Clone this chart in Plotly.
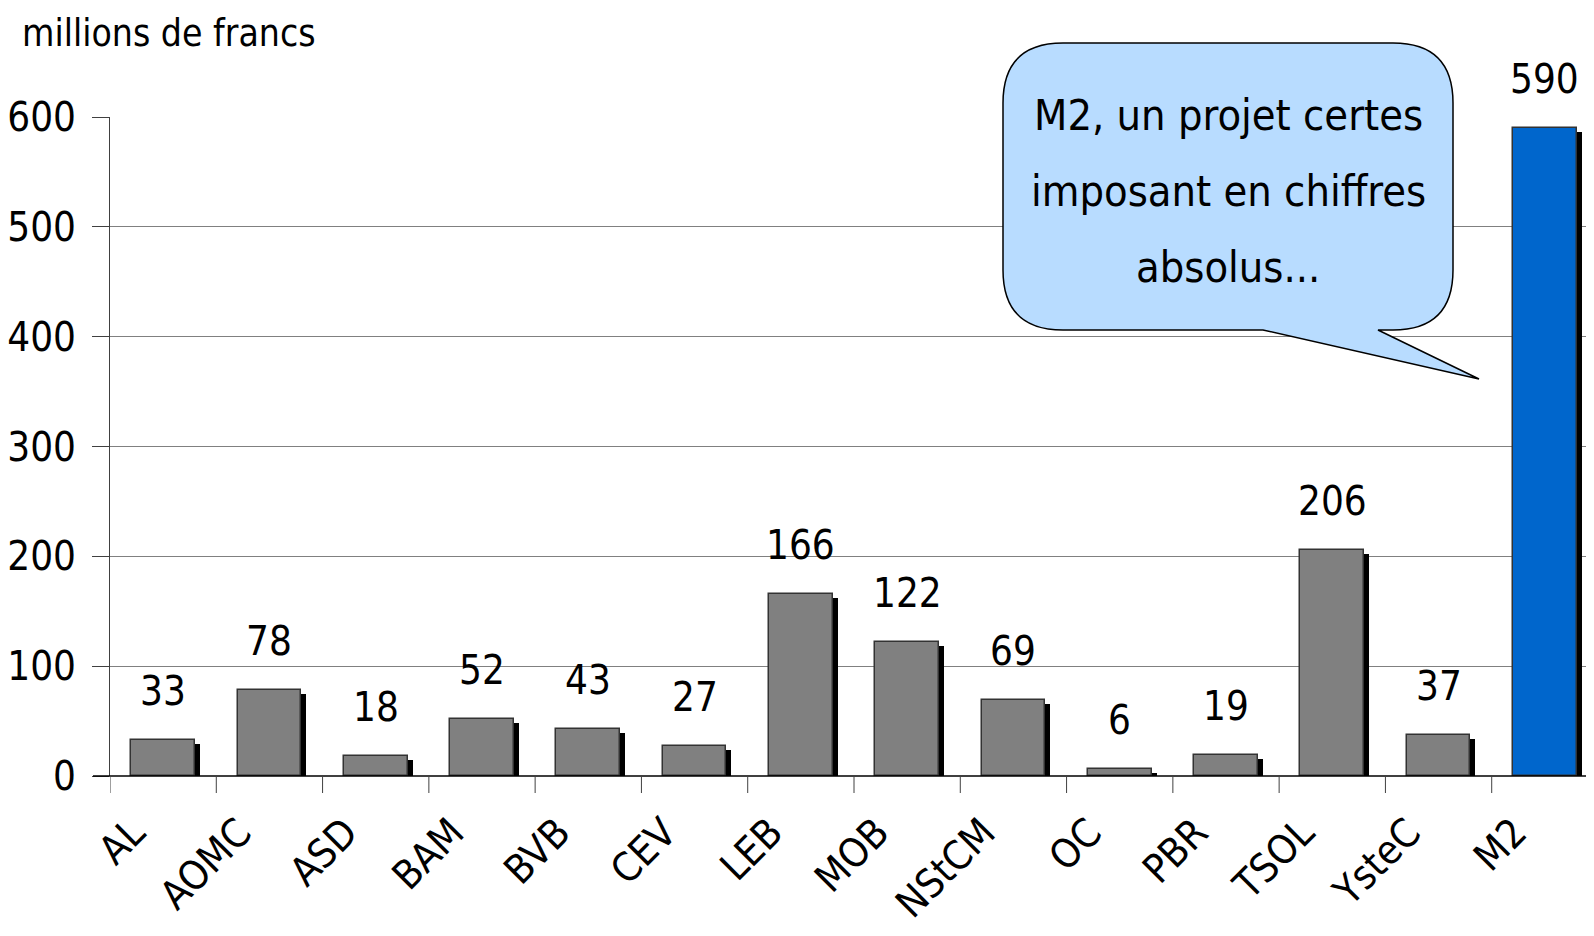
import plotly.graph_objects as go

categories = ["AL", "AOMC", "ASD", "BAM", "BVB", "CEV", "LEB", "MOB", "NStCM", "OC", "PBR", "TSOL", "YsteC", "M2"]
values = [33, 78, 18, 52, 43, 27, 166, 122, 69, 6, 19, 206, 37, 590]
y_ticks = [0, 100, 200, 300, 400, 500, 600]
title_text = "millions de francs"
bubble_lines = ["M2, un projet certes", "imposant en chiffres", "absolus..."]

# page body has an 8px margin; build the figure in target-page coordinates
OFF = 8
X0, X1, Y0, Y1 = 110, 1598, 117, 776   # plot area in page pixels
FW, FH = X1 - OFF, 936 - OFF
ML, MR, MT, MB = X0 - OFF, (FW + OFF) - X1, Y0 - OFF, (FH + OFF) - Y1
PW, PH = X1 - X0, Y1 - Y0

FONT = "DejaVu Sans Condensed, Liberation Sans Narrow, Arial Narrow, sans-serif"

def px(x):
    return (x - X0) / PW

def py(y):
    return (Y1 - y) / PH

bar_colors = ["#808080"] * (len(categories) - 1) + ["#0066CC"]
shadow_dy = 4 * 600 / PH
shadow_dx = 5 * len(categories) / PW

fig = go.Figure()
fig.add_trace(go.Bar(
    x=list(range(len(categories))), y=[v - shadow_dy for v in values],
    width=0.6, offset=-0.3 + shadow_dx,
    marker=dict(color="black", line=dict(width=0)),
    hoverinfo="skip", showlegend=False,
))
fig.add_trace(go.Bar(
    x=list(range(len(categories))), y=values,
    width=0.6, offset=-0.3,
    marker=dict(color=bar_colors, line=dict(color="#333333", width=1.5)),
    showlegend=False,
))

for i, v in enumerate(values):
    fig.add_annotation(x=i, y=v, text=str(v), showarrow=False, xanchor="center",
                       yanchor="bottom", yshift=24,
                       font=dict(family=FONT, size=40, color="black"))

fig.add_annotation(xref="paper", yref="paper", x=px(20), y=py(34), text=title_text,
                   showarrow=False, xanchor="left", yanchor="middle",
                   font=dict(family=FONT, size=37, color="black"))

# speech bubble
L, R, T, B, r = 1003, 1453, 43, 330, 60
tb1, tb2, tip = 1263, 1378, (1479, 379)
path = (f"M {px(L + r)},{py(T)} L {px(R - r)},{py(T)} Q {px(R)},{py(T)} {px(R)},{py(T + r)} "
        f"L {px(R)},{py(B - r)} Q {px(R)},{py(B)} {px(R - r)},{py(B)} "
        f"L {px(tb2)},{py(B)} L {px(tip[0])},{py(tip[1])} L {px(tb1)},{py(B)} "
        f"L {px(L + r)},{py(B)} Q {px(L)},{py(B)} {px(L)},{py(B - r)} "
        f"L {px(L)},{py(T + r)} Q {px(L)},{py(T)} {px(L + r)},{py(T)} Z")
fig.add_shape(type="path", xref="paper", yref="paper", path=path,
              fillcolor="#B8DCFF", line=dict(color="black", width=1.5), layer="above")
for k, line in enumerate(bubble_lines):
    fig.add_annotation(xref="paper", yref="paper", x=px(1228), y=py(115 + 76 * k), text=line,
                       showarrow=False, xanchor="center", yanchor="middle",
                       font=dict(family=FONT, size=43, color="black"))

fig.update_layout(
    width=FW, height=FH, margin=dict(l=ML, r=MR, t=MT, b=MB, autoexpand=False),
    plot_bgcolor="white", paper_bgcolor="white", barmode="overlay", bargap=0,
    font=dict(family=FONT, color="black"),
)
fig.update_xaxes(
    tickmode="array", tickvals=list(range(len(categories))), ticktext=categories,
    range=[-0.5, len(categories) - 0.5], tickangle=-45,
    ticks="", showgrid=False, zeroline=False, showline=False,
    ticklabelstandoff=24, ticklabelshift=-30,
    tickfont=dict(family=FONT, size=40, color="black"),
)
fig.update_yaxes(
    range=[0, 600], tickvals=y_ticks, ticks="outside", ticklen=17, tickcolor="#404040",
    showgrid=True, gridcolor="#808080", gridwidth=1, zeroline=False,
    showline=True, linecolor="#404040", linewidth=1, ticklabelstandoff=8,
    tickfont=dict(family=FONT, size=40, color="black"),
)
# x-axis baseline and boundary ticks drawn from the category count
fig.add_shape(type="line", xref="paper", yref="paper", x0=px(X0 - 17), x1=1, y0=0, y1=0,
              line=dict(color="black", width=1.5))
for i in range(len(categories) + 1):
    fig.add_shape(type="line", xref="x", yref="paper", x0=i - 0.5, x1=i - 0.5, y0=0, y1=py(Y1 + 17),
                  line=dict(color="#404040", width=1))

fig.write_html("out.html")
